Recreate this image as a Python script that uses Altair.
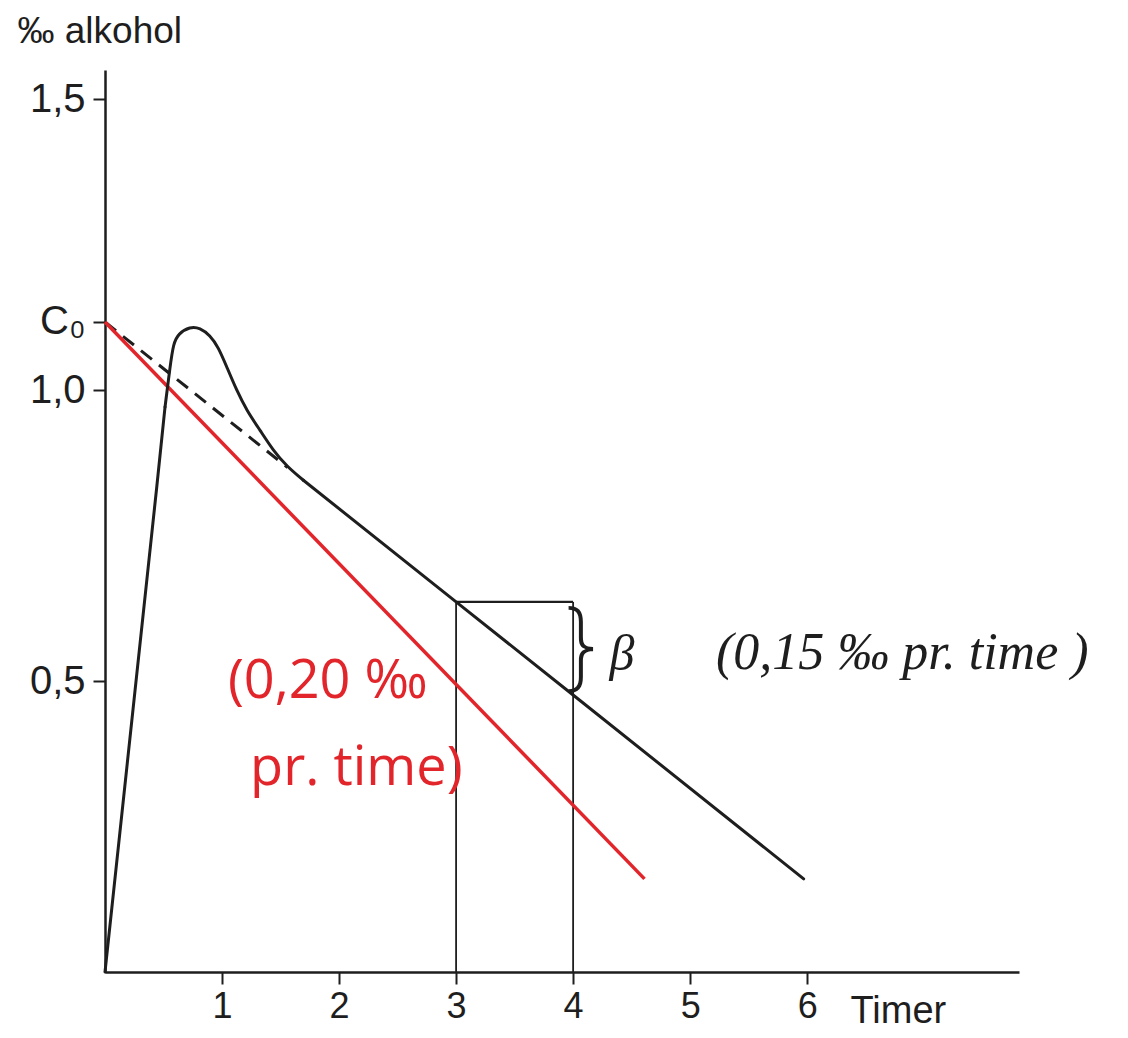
import altair as alt
import pandas as pd

# ---- values ----
X_TICKS = [1, 2, 3, 4, 5, 6]
Y_TICKS = [0.5, 1.0, 1.117, 1.5]   # 1.117 = C0

# absorption: straight rise (hours, per mille)
RISE_T = [0.0, 0.442, 0.513]
RISE_C = [0.0, 0.833, 0.971]

# peak and fall until it joins the elimination line
HUMP_T = [0.513, 0.556, 0.584, 0.627, 0.726, 0.812, 0.897, 0.968,
          1.040, 1.126, 1.211, 1.325, 1.438, 1.553, 1.695]
HUMP_C = [0.971, 1.040, 1.080, 1.097, 1.109, 1.107, 1.094, 1.074,
          1.040, 0.999, 0.965, 0.931, 0.896, 0.869, 0.845]

# elimination line (beta = 0.15 per mille per hour)
BLACK_T = [1.695, 3.0, 4.0, 5.97]
BLACK_C = [0.845, 0.636, 0.476, 0.160]

# dashed back-extrapolation to C0
DASH_T = [0.0, 1.56]
DASH_C = [1.117, 0.867]

# red line (0.20 per mille per hour)
RED_T = [0.0, 4.61]
RED_C = [1.117, 0.160]

# rectangle showing one hour step
VR_T = [3.0, 4.0]
VR_C = [0.0, 0.0]
VR_C2 = [0.636, 0.636]
HR_T = [3.0]
HR_T2 = [4.0]
HR_C = [0.636]

# annotations
RED_TEXT = ["(0,20 ‰", "pr. time)"]
RED_TEXT_T = [1.05, 1.24]
RED_TEXT_C = [0.498, 0.349]

BRACE_T = [4.07]
BRACE_C = [0.552]
BETA_T = [4.31]
BETA_C = [0.545]
NOTE_TEXT = ["(0,15  ‰  pr.  time   )"]
NOTE_T = [5.22]
NOTE_C = [0.548]

INK = "#1e1e1e"
RED = "#e2252b"
FONT = "Liberation Sans"

x_enc = alt.X(
    "t:Q",
    scale=alt.Scale(domain=[0, 7.81], nice=False, zero=False),
    axis=alt.Axis(
        values=X_TICKS, format="d", title="Timer",
        titleX=745, titleY=50, titleAlign="left", titleBaseline="alphabetic",
        titleAngle=0,
        titleFont=FONT, titleFontSize=38, titleFontWeight="normal", titleColor=INK,
        labelFont=FONT, labelFontSize=36, labelColor=INK, labelPadding=5,
        labelFlush=False, labelOverlap=False, labelBound=False,
        tickSize=12, tickWidth=2, tickColor=INK,
        domainWidth=2.5, domainColor=INK, grid=False,
    ),
)
y_enc = alt.Y(
    "c:Q",
    scale=alt.Scale(domain=[0, 1.55], nice=False, zero=False),
    axis=alt.Axis(
        values=Y_TICKS,
        labelExpr="datum.value > 1.1 && datum.value < 1.2 ? 'C₀' : replace(format(datum.value, '.1f'), '.', ',')",
        title="‰   alkohol",
        titleX=-88, titleY=-28, titleAngle=0, titleAlign="left", titleBaseline="alphabetic",
        titleFont=FONT, titleFontSize=37, titleFontWeight="normal", titleColor=INK,
        labelFont=FONT, labelFontSize=40, labelColor=INK, labelPadding=8,
        labelFlush=False, labelOverlap=False, labelBound=False,
        tickSize=12, tickWidth=2, tickColor=INK,
        domainWidth=2.5, domainColor=INK, grid=False,
    ),
)

rise_df = pd.DataFrame({"t": RISE_T, "c": RISE_C})
hump_df = pd.DataFrame({"t": HUMP_T, "c": HUMP_C})
black_df = pd.DataFrame({"t": BLACK_T, "c": BLACK_C})
dash_df = pd.DataFrame({"t": DASH_T, "c": DASH_C})
red_df = pd.DataFrame({"t": RED_T, "c": RED_C})
vr_df = pd.DataFrame({"t": VR_T, "c": VR_C, "c2": VR_C2})
hr_df = pd.DataFrame({"t": HR_T, "t2": HR_T2, "c": HR_C})
redtxt_df = pd.DataFrame({"t": RED_TEXT_T, "c": RED_TEXT_C, "label": RED_TEXT})
brace_df = pd.DataFrame({"t": BRACE_T, "c": BRACE_C, "label": ["}"]})
beta_df = pd.DataFrame({"t": BETA_T, "c": BETA_C, "label": ["β"]})
note_df = pd.DataFrame({"t": NOTE_T, "c": NOTE_C, "label": NOTE_TEXT})

rise = alt.Chart(rise_df).mark_line(color=INK, strokeWidth=3, strokeCap="round").encode(x=x_enc, y=y_enc)
hump = alt.Chart(hump_df).mark_line(color=INK, strokeWidth=3, interpolate="basis", strokeCap="round").encode(x=x_enc, y=y_enc)
black = alt.Chart(black_df).mark_line(color=INK, strokeWidth=3, strokeCap="round").encode(x=x_enc, y=y_enc)
dash = alt.Chart(dash_df).mark_line(color=INK, strokeWidth=3, strokeDash=[14, 9]).encode(x=x_enc, y=y_enc)
red = alt.Chart(red_df).mark_line(color=RED, strokeWidth=3.5).encode(x=x_enc, y=y_enc)
vr = alt.Chart(vr_df).mark_rule(color=INK, strokeWidth=1.8).encode(x=x_enc, y=y_enc, y2="c2:Q")
hr = alt.Chart(hr_df).mark_rule(color=INK, strokeWidth=2.2).encode(x=x_enc, x2="t2:Q", y=y_enc)

redtxt = alt.Chart(redtxt_df).mark_text(
    font="Open Sans", fontSize=54, color=RED, align="left", baseline="middle"
).encode(x=x_enc, y=y_enc, text="label:N")
brace = alt.Chart(brace_df).mark_text(
    font="Inter", fontSize=96, fontWeight=200, color=INK, align="center", baseline="middle"
).encode(x=x_enc, y=y_enc, text="label:N")
beta = alt.Chart(beta_df).mark_text(
    font="Liberation Serif", fontStyle="italic", fontSize=50, color=INK, align="left", baseline="middle"
).encode(x=x_enc, y=y_enc, text="label:N")
note = alt.Chart(note_df).mark_text(
    font="Liberation Serif", fontStyle="italic", fontSize=52, color=INK, align="left", baseline="middle"
).encode(x=x_enc, y=y_enc, text="label:N")

chart = (
    alt.layer(vr, hr, dash, red, rise, hump, black, redtxt, brace, beta, note)
    .properties(
        width=914, height=902,
        autosize=alt.AutoSizeParams(type="none"),
        padding={"left": 97, "top": 62, "right": 101, "bottom": 58},
        background="white",
    )
    .configure_view(stroke=None)
)

chart.save("out.html", embed_options={"renderer": "svg", "actions": False})
